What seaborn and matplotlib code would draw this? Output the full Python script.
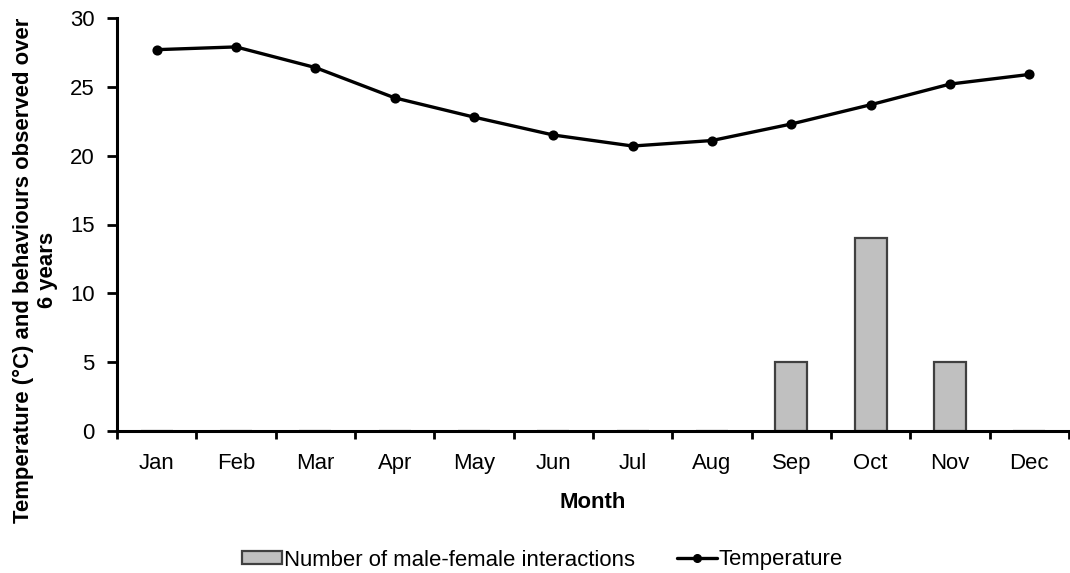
#!/usr/bin/env python3

import numpy as np
import pandas as pd
import seaborn as sns
import matplotlib as mpl
import matplotlib.pyplot as plt
from matplotlib.patches import Patch
from matplotlib.lines import Line2D

sns.set_theme(style="white")
mpl.rcParams["font.family"] = ["Liberation Sans", "DejaVu Sans"]
mpl.rcParams["text.color"] = "black"
mpl.rcParams["axes.labelcolor"] = "black"
mpl.rcParams["xtick.color"] = "black"
mpl.rcParams["ytick.color"] = "black"

months = ["Jan", "Feb", "Mar", "Apr", "May", "Jun",
          "Jul", "Aug", "Sep", "Oct", "Nov", "Dec"]
temperature = [27.7, 27.9, 26.4, 24.2, 22.8, 21.5, 20.7, 21.1, 22.3, 23.7, 25.2, 25.9]
interactions = [0, 0, 0, 0, 0, 0, 0, 0, 5, 14, 5, 0]

df = pd.DataFrame({"month": months, "temp": temperature, "count": interactions})

fs = 15.9
fig = plt.figure(figsize=(10.7, 5.73), dpi=100)
ax = fig.add_axes([117 / 1070, 1 - 431 / 573, 952 / 1070, 413 / 573])

sns.barplot(ax=ax, data=df, x="month", y="count", order=months,
            color="#c0c0c0", edgecolor="#404040", linewidth=1.6,
            width=0.4, saturation=1)
sns.pointplot(ax=ax, data=df, x="month", y="temp", order=months,
              color="black", markers="o", markersize=5.5, linewidth=2.4)

ax.set_xlim(-0.5, 11.5)
ax.set_ylim(0, 30)
ax.set_yticks([0, 5, 10, 15, 20, 25, 30])

for s in ["top", "right"]:
    ax.spines[s].set_visible(False)
for s in ["left", "bottom"]:
    ax.spines[s].set_linewidth(2.2)
    ax.spines[s].set_color("black")
    ax.spines[s].set_zorder(5)

ax.tick_params(axis="y", which="major", direction="out", length=7, width=2,
               labelsize=fs, pad=9, left=True)
ax.tick_params(axis="x", which="major", length=0, labelsize=fs, pad=16)
ax.set_xticks(np.arange(-0.5, 12, 1), minor=True)
ax.tick_params(axis="x", which="minor", direction="out", length=6, width=2,
               bottom=True)

ax.set_xlabel("Month", fontsize=fs, fontweight="bold", labelpad=13)
ax.set_ylabel("Temperature (°C) and behaviours observed over\n6 years",
              fontsize=fs, fontweight="bold", linespacing=1.2)
ax.yaxis.set_label_coords(-0.062, 0.39)

handles = [
    Patch(facecolor="#c0c0c0", edgecolor="#404040", linewidth=1.6),
    Line2D([0], [0], color="black", marker="o", markersize=5.5, linewidth=2.4),
]
fig.legend(handles, ["Number of male-female interactions", "Temperature"],
           loc="center", bbox_to_anchor=(0.507, 1 - 560 / 573), ncol=2,
           frameon=False, fontsize=fs, handlelength=1.8, handleheight=0.55,
           handletextpad=0.1, columnspacing=1.9)

fig.savefig("out.png", dpi=100)
